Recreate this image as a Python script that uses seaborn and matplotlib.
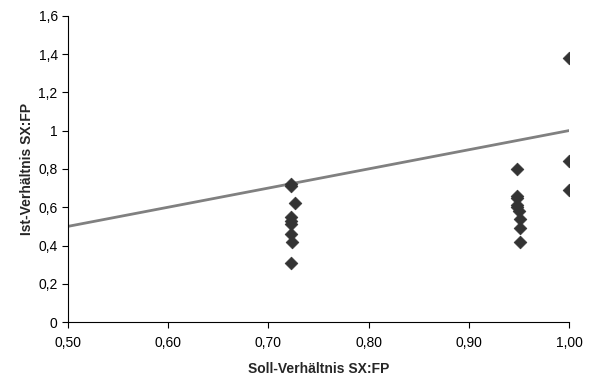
import matplotlib
matplotlib.use("Agg")
import matplotlib.pyplot as plt
import pandas as pd
import seaborn as sns
from matplotlib.ticker import FuncFormatter, MultipleLocator

# Soll- (x) und Ist-Verhältnis (y) je Messung
soll = [0.723, 0.723, 0.727, 0.723, 0.723, 0.723, 0.723, 0.724, 0.723,
        0.948, 0.948, 0.948, 0.948, 0.948, 0.950, 0.951, 0.951, 0.951,
        1.00, 1.00, 1.00]
ist = [0.72, 0.71, 0.62, 0.55, 0.53, 0.51, 0.46, 0.42, 0.31,
       0.80, 0.66, 0.65, 0.61, 0.60, 0.58, 0.54, 0.49, 0.42,
       1.38, 0.84, 0.69]

# Ideallinie Soll = Ist
ideal_x = [0.5, 1.0]
ideal_y = [0.5, 1.0]

sns.set_theme(style="white")
plt.rcParams["font.family"] = ["Liberation Sans", "DejaVu Sans"]

fig = plt.figure(figsize=(5.97, 3.83), dpi=100)
ax = fig.add_axes([0.114, 0.159, 0.839, 0.800])

df = pd.DataFrame({"soll": soll, "ist": ist})
line_df = pd.DataFrame({"x": ideal_x, "y": ideal_y})

sns.lineplot(data=line_df, x="x", y="y", ax=ax, color="#808080", linewidth=2)
sns.scatterplot(data=df, x="soll", y="ist", ax=ax, marker="D", s=42,
                color="#333333", edgecolor="#333333", linewidth=0.5, zorder=3)

ax.set_xlim(0.5, 1.0)
ax.set_ylim(0, 1.6)
ax.xaxis.set_major_locator(MultipleLocator(0.1))
ax.yaxis.set_major_locator(MultipleLocator(0.2))
ax.xaxis.set_major_formatter(FuncFormatter(lambda v, p: f"{v:.2f}".replace(".", ",")))
ax.yaxis.set_major_formatter(FuncFormatter(lambda v, p: f"{v:g}".replace(".", ",")))

for side in ["top", "right"]:
    ax.spines[side].set_visible(False)
for side in ["left", "bottom"]:
    ax.spines[side].set_color("black")
    ax.spines[side].set_linewidth(0.8)

ax.tick_params(axis="both", which="major", direction="out", length=4, width=0.8,
               color="black", labelsize=10, labelcolor="black", bottom=True, left=True)
ax.tick_params(axis="x", pad=6)

ax.set_xlabel("Soll-Verhältnis SX:FP", fontsize=10, fontweight="bold", labelpad=9)
ax.set_ylabel("Ist-Verhältnis SX:FP", fontsize=10, fontweight="bold", labelpad=3)

fig.savefig("out.png", dpi=100, facecolor="white")
